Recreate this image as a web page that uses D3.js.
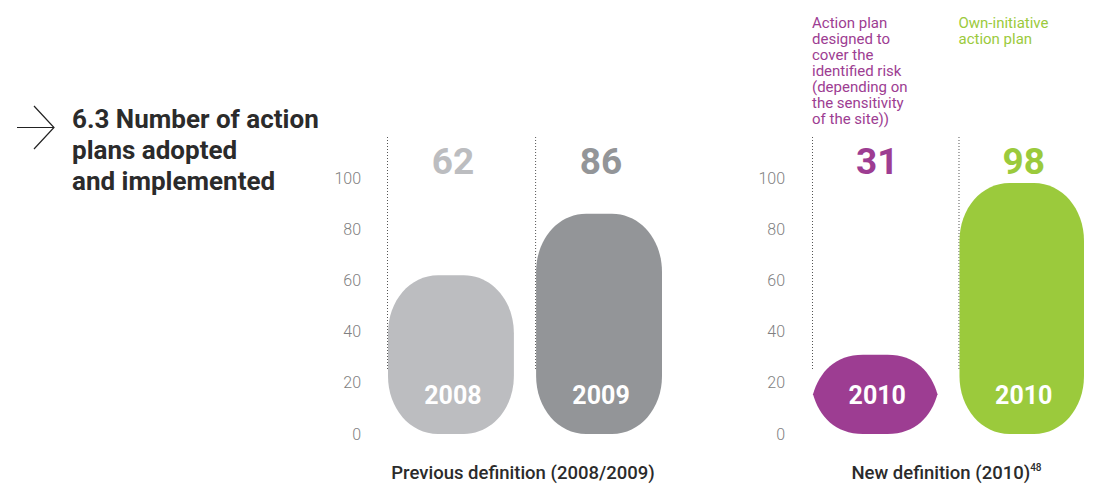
<!DOCTYPE html>
<html>
<head>
<meta charset="utf-8">
<script src="https://cdn.jsdelivr.net/npm/d3@7"></script>
<style>
  body { margin: 0; background: #fff; }
  text { font-family: Roboto, "Open Sans", sans-serif; }
</style>
</head>
<body>
<div id="root"></div>
<script>
const width = 1096;
const height = 488;

// data
const prevKeys = ['2008', '2009'];
const prevLabels = ['2008', '2009'];
const prevValues = [62, 86];
const prevColors = ['#bcbdc0', '#939598'];

const newKeys = ['risk', 'own'];
const newLabels = ['2010', '2010'];
const newValues = [31, 98];
const newColors = ['#9d3d92', '#9bca3c'];
const newNotes = [
  ['Action plan', 'designed to', 'cover the', 'identified risk', '(depending on', 'the sensitivity', 'of the site))'],
  ['Own-initiative', 'action plan']
];

const yTicks = [0, 20, 40, 60, 80, 100];

const svg = d3.select('#root').append('svg')
  .attr('width', width)
  .attr('height', height);

// y scale shared by both panels
const y = d3.scaleLinear()
  .domain([0, 100])
  .range([434, 178]);

// rounded bar, corners overlap into a lens when the bar is short
function pill(x0, x1, yt, yb) {
  const rx = Math.min(50, (x1 - x0) / 2);
  const ry = 58;
  const e = Math.min(ry, (yb - yt) / 2);
  const k = 0.56;
  const s = rx * 0.4 * (1 - e / ry);
  const p = d3.path();
  p.moveTo(x0 + rx, yt);
  p.lineTo(x1 - rx, yt);
  p.bezierCurveTo(x1 - rx + rx * k, yt, x1 - s, yt + e - e * k, x1, yt + e);
  p.lineTo(x1, yb - e);
  p.bezierCurveTo(x1 - s, yb - e + e * k, x1 - rx + rx * k, yb, x1 - rx, yb);
  p.lineTo(x0 + rx, yb);
  p.bezierCurveTo(x0 + rx - rx * k, yb, x0 + s, yb - e + e * k, x0, yb - e);
  p.lineTo(x0, yt + e);
  p.bezierCurveTo(x0 + s, yt + e - e * k, x0 + rx - rx * k, yt, x0 + rx, yt);
  p.closePath();
  return p.toString();
}

function panel(keys, labels, values, colors, range, axisX, title) {
  const data = keys.map((k, i) => ({ key: k, label: labels[i], value: values[i], color: colors[i] }));

  const x = d3.scaleBand()
    .domain(keys)
    .range(range)
    .paddingInner(0.15)
    .paddingOuter(0);

  const g = svg.append('g');

  // y axis, labels only
  const axis = g.append('g')
    .attr('transform', `translate(${axisX}, 0)`)
    .call(d3.axisLeft(y).tickValues(yTicks).tickSize(0).tickPadding(0));
  axis.select('.domain').remove();
  axis.selectAll('text')
    .attr('font-family', 'Roboto, sans-serif')
    .attr('font-weight', 300)
    .attr('font-size', '16px')
    .attr('fill', '#7f7f81');

  // dotted guides
  g.selectAll('line.guide').data(data)
    .enter().append('line')
      .attr('class', 'guide')
      .attr('x1', (d) => x(d.key) - 0.5)
      .attr('x2', (d) => x(d.key) - 0.5)
      .attr('y1', 137)
      .attr('y2', 371)
      .attr('stroke', '#555')
      .attr('stroke-width', 1)
      .attr('stroke-dasharray', '1,2');

  g.selectAll('path.bar').data(data)
    .enter().append('path')
      .attr('class', 'bar')
      .attr('d', (d) => pill(x(d.key), x(d.key) + x.bandwidth(), y(d.value), y(0)))
      .attr('fill', (d) => d.color);

  // value on top
  g.selectAll('text.value').data(data)
    .enter().append('text')
      .attr('class', 'value')
      .attr('x', (d) => x(d.key) + x.bandwidth() / 2 + 2)
      .attr('y', 174)
      .attr('text-anchor', 'middle')
      .attr('font-size', '37px')
      .attr('font-weight', 700)
      .attr('fill', (d) => d.color)
      .text((d) => d.value);

  // year inside bar
  g.selectAll('text.year').data(data)
    .enter().append('text')
      .attr('class', 'year')
      .attr('x', (d) => x(d.key) + x.bandwidth() / 2 + 2)
      .attr('y', 404)
      .attr('text-anchor', 'middle')
      .attr('font-size', '25px')
      .attr('font-weight', 700)
      .attr('fill', '#fff')
      .text((d) => d.label);

  // panel title
  const t = g.append('text')
    .attr('x', (range[0] + range[1]) / 2 - 2)
    .attr('y', 479)
    .attr('text-anchor', 'middle')
    .attr('font-size', '18.5px')
    .attr('font-weight', 500)
    .attr('fill', '#2b2b2b');
  t.append('tspan').text(title[0]);
  if (title[1]) {
    t.append('tspan')
      .attr('font-size', '10px')
      .attr('dy', -8)
      .text(title[1]);
  }

  return { x, data, g };
}

panel(prevKeys, prevLabels, prevValues, prevColors, [388, 662], 361, ['Previous definition (2008/2009)']);
const right = panel(newKeys, newLabels, newValues, newColors, [813, 1084], 785, ['New definition (2010)', '48']);

// notes above the new-definition bars
right.data.forEach((d, i) => {
  const t = right.g.append('text')
    .attr('x', right.x(d.key) - 1)
    .attr('y', 28)
    .attr('font-size', '15px')
    .attr('font-weight', 400)
    .attr('fill', d.color);
  newNotes[i].forEach((line, j) => {
    t.append('tspan')
      .attr('x', right.x(d.key) - 1)
      .attr('dy', j === 0 ? 0 : 16)
      .text(line);
  });
});

// chart title with arrow
const head = svg.append('g');
head.append('path')
  .attr('d', 'M17,127.5H54M34,106L54,127.5L34,149')
  .attr('fill', 'none')
  .attr('stroke', '#222')
  .attr('stroke-width', 1.2);

const titleLines = ['6.3 Number of action', 'plans adopted', 'and implemented'];
head.append('text')
  .attr('x', 72)
  .attr('y', 128)
  .attr('font-size', '26px')
  .attr('font-weight', 700)
  .attr('fill', '#2b2b2b')
  .selectAll('tspan').data(titleLines)
  .enter().append('tspan')
    .attr('x', 72)
    .attr('dy', (d, i) => i === 0 ? 0 : 31)
    .text((d) => d);
</script>
</body>
</html>
